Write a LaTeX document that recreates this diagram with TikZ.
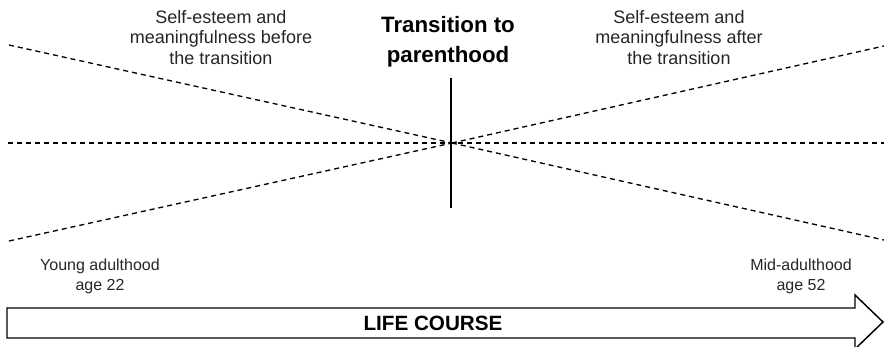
\documentclass[tikz,border=0pt]{standalone}
\usepackage{fontspec}
\setmainfont{Liberation Sans}
\usetikzlibrary{positioning}

\begin{document}
\begin{tikzpicture}[x=0.75pt,y=-0.75pt,
    guide/.style={dash pattern=on 3.75pt off 3pt, line width=1pt},
    note/.style={align=center, inner sep=0pt, anchor=north, text=black!85, font=\fontsize{13.5}{15.5}\selectfont},
    age/.style={align=center, inner sep=0pt, anchor=north, text=black!85, font=\fontsize{12}{14.5}\selectfont}]
    \useasboundingbox (0,0) rectangle (884,346);
    \clip (0,0) rectangle (884,346);
    % where the lines meet
    \coordinate (cross) at (452,143);
    \coordinate (tl) at (9,45);   \coordinate (tr) at (884,46);
    \coordinate (ml) at (8,143);  \coordinate (mr) at (884,143);
    \coordinate (bl) at (9,241);  \coordinate (br) at (884,240);
    \coordinate (ptop) at (451,78); \coordinate (pbot) at (451,208);
    % labels
    \node[note] (before) at (221,10) {Self-esteem and\\meaningfulness before\\the transition};
    \node[note] (after) at (679,10) {Self-esteem and\\meaningfulness after\\the transition};
    \node[align=center, inner sep=0pt, anchor=north, font=\fontsize{16.7}{22.5}\selectfont\bfseries] (trans) at (448,16) {Transition to\\parenthood};
    \node[age] (young) at (100,259) {Young adulthood\\age 22};
    \node[age] (mid) at (801,259) {Mid-adulthood\\age 52};
    % dashed lines
    \foreach \a in {tl,bl} \draw[guide] (\a) -- (cross);
    \foreach \b in {tr,br} \draw[guide] (cross) -- (\b);
    \draw[guide] (ml) -- (mr);
    \draw[line width=1.4pt] (ptop) -- (pbot);
    % life course arrow
    \draw[line width=1.1pt] (7,308) -- (855,308) -- (855,295) -- (883,322)
        -- (855,349) -- (855,338) -- (7,338) -- cycle;
    \node[font=\fontsize{15.5}{18}\selectfont\bfseries, inner sep=0pt] (life) at (433,323.5) {LIFE COURSE};
\end{tikzpicture}
\end{document}
